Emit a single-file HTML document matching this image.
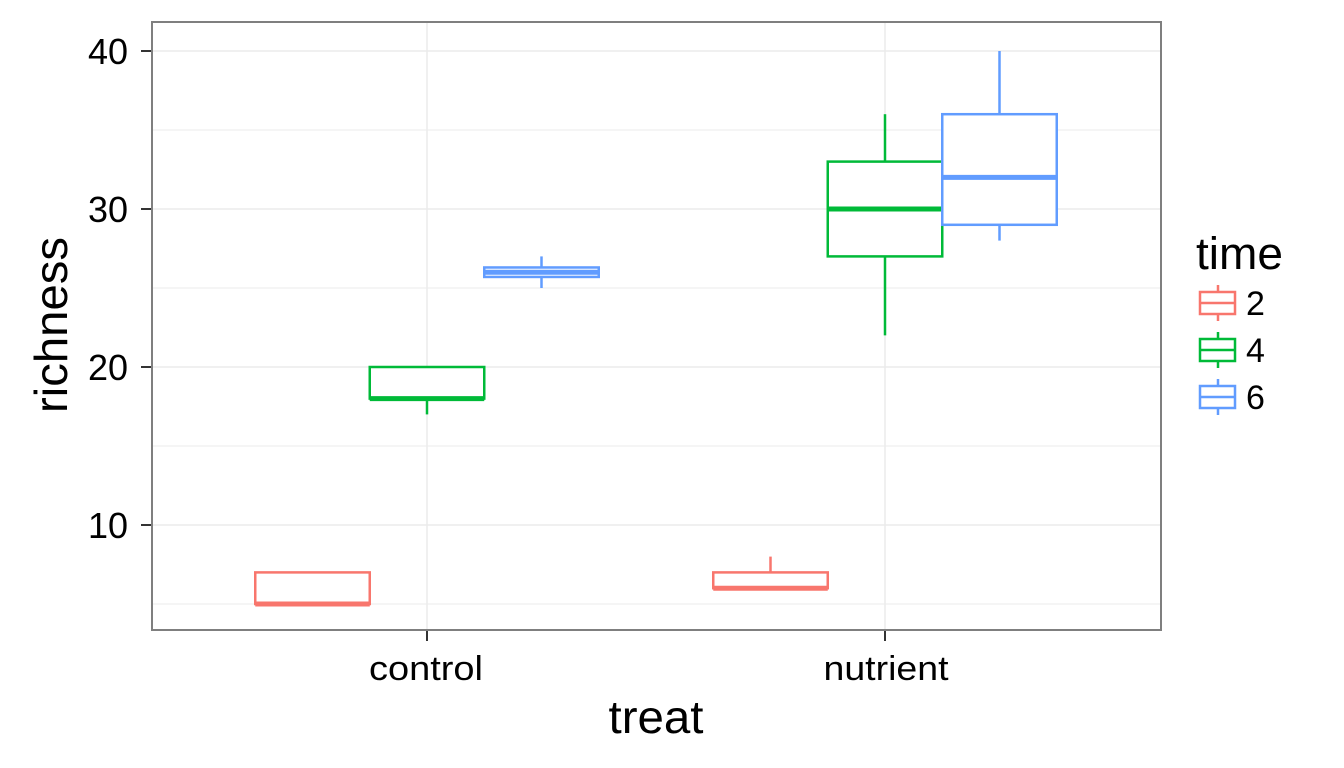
<!DOCTYPE html>
<html><head><meta charset="utf-8"><style>
body{margin:0;background:#fff;}
svg{display:block;font-family:"Liberation Sans",sans-serif;}
</style></head><body>
<svg id="chart" width="1344" height="768" xmlns="http://www.w3.org/2000/svg"></svg>
<script>
const categories = ["control","nutrient"];
const groups = ["2","4","6"];
const colors = ["#F8766D","#00BA38","#619CFF"];
// per category, per group: [whiskerLow, q1, median, q3, whiskerHigh]
const controlStats = [[5,5,5,7,7],[17,18,18,20,20],[25,25.7,26,26.3,27]];
const nutrientStats = [[6,6,6,7,8],[22,27,30,33,36],[28,29,32,36,40]];
const yTicks = [10,20,30,40];
const yMinor = [5,15,25,35];

const NS="http://www.w3.org/2000/svg";
const svg=document.getElementById('chart');
const L=152,R=1161,T=22,B=630;
const y=v=>51+(40-v)*15.8;
const catX=i=>427+i*458;
function el(tag,attrs,parent){const e=document.createElementNS(NS,tag);for(const k in attrs)e.setAttribute(k,attrs[k]);(parent||svg).appendChild(e);return e;}

const bg=el('rect',{x:L,y:T,width:R-L,height:B-T,fill:'#fff'});


yMinor.forEach(v=>{const g=el('line',{x1:L,x2:R,y1:y(v),y2:y(v),stroke:'#f5f5f5','stroke-width':2});

});
yTicks.forEach(v=>{const g=el('line',{x1:L,x2:R,y1:y(v),y2:y(v),stroke:'#ebebeb','stroke-width':1.5});


const t=el('line',{x1:141,x2:L,y1:y(v),y2:y(v),stroke:'#333','stroke-width':2});


const tx=el('text',{x:128,y:y(v)+13,'text-anchor':'end','font-size':36,fill:'#000'});tx.textContent=v;

});
const xLabW=[114,125];
categories.forEach((c,i)=>{const g=el('line',{x1:catX(i),x2:catX(i),y1:T,y2:B,stroke:'#ebebeb','stroke-width':1.5});


const t=el('line',{x1:catX(i),x2:catX(i),y1:B,y2:B+11,stroke:'#333','stroke-width':2});


const tx=el('text',{x:catX(i)+(i?1:-1),y:680,'text-anchor':'middle','font-size':34,fill:'#000',textLength:xLabW[i],lengthAdjust:'spacingAndGlyphs'});tx.textContent=c;

});

const allStats=[controlStats,nutrientStats];
const bw=114.5;
allStats.forEach((cs,i)=>{cs.forEach((s,g)=>{
 const cx=catX(i)+(g-1)*bw, x0=cx-bw/2, col=colors[g];
 const grp=el('g',{});
 
 
 el('line',{x1:cx,x2:cx,y1:y(s[4]),y2:y(s[3]),stroke:col,'stroke-width':2.5},grp);
 el('line',{x1:cx,x2:cx,y1:y(s[1]),y2:y(s[0]),stroke:col,'stroke-width':2.5},grp);
 el('rect',{x:x0,y:y(s[3]),width:bw,height:y(s[1])-y(s[3]),fill:'#fff',stroke:col,'stroke-width':2.5},grp);
 el('line',{x1:x0,x2:x0+bw,y1:y(s[2]),y2:y(s[2]),stroke:col,'stroke-width':5},grp);
});});
const border=el('rect',{x:L,y:T,width:R-L,height:B-T,fill:'none',stroke:'#7f7f7f','stroke-width':2});



const xt=el('text',{x:656,y:733,'text-anchor':'middle','font-size':46,fill:'#000',textLength:95,lengthAdjust:'spacingAndGlyphs'});xt.textContent='treat';


const yt=el('text',{x:0,y:0,'text-anchor':'middle','font-size':46,fill:'#000',textLength:176,lengthAdjust:'spacingAndGlyphs',transform:'translate(67,325) rotate(-90)'});yt.textContent='richness';



const lt=el('text',{x:1196,y:269,'font-size':45,fill:'#000',textLength:87,lengthAdjust:'spacingAndGlyphs'});lt.textContent='time';


groups.forEach((g,k)=>{const cy=303+k*47, col=colors[k];
 const lg=el('g',{});
 
 
 el('line',{x1:1218,x2:1218,y1:cy-18,y2:cy+18,stroke:col,'stroke-width':2.5},lg);
 el('rect',{x:1200,y:cy-11,width:35,height:22,fill:'#fff',stroke:col,'stroke-width':2.5},lg);
 el('line',{x1:1200,x2:1235,y1:cy,y2:cy,stroke:col,'stroke-width':2.5},lg);
 const t=el('text',{x:1246,y:cy+12,'font-size':34,fill:'#000'},lg);t.textContent=g;
});
</script>
</body></html>
